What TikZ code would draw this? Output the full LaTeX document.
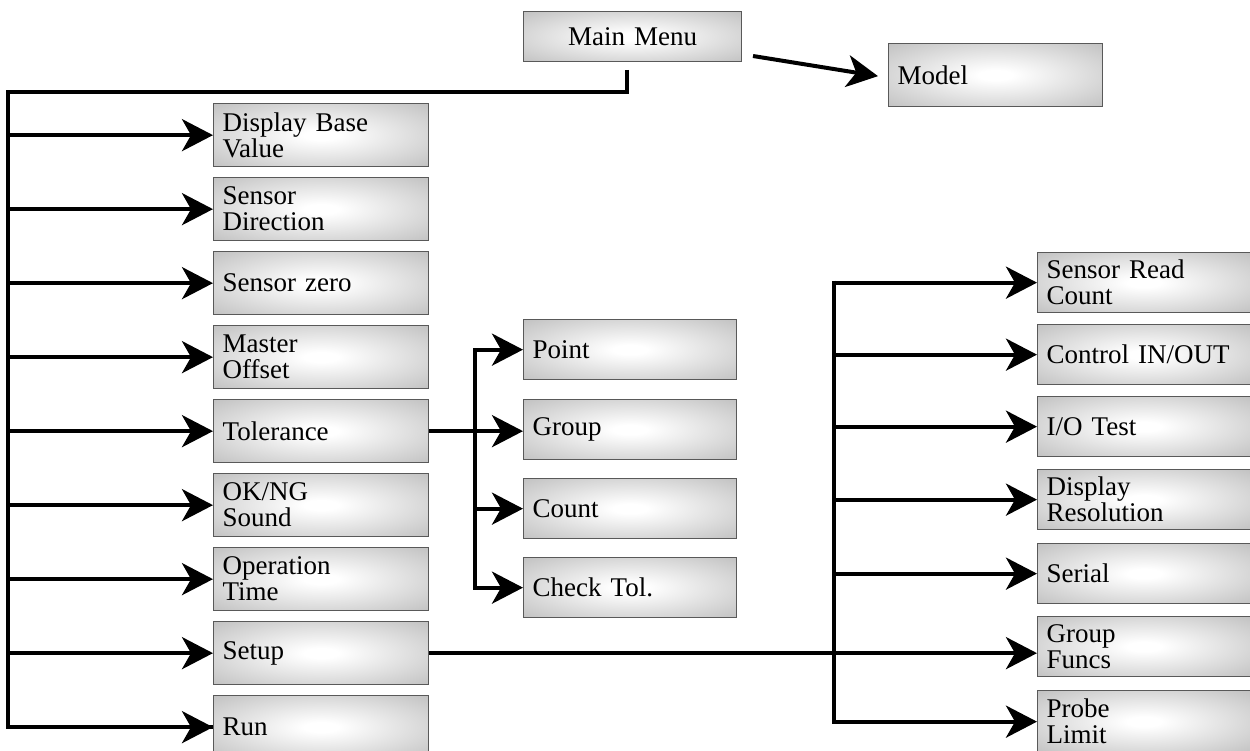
\documentclass[tikz,border=0pt]{standalone}
\usepackage{fontspec}
\setmainfont{Liberation Serif}[WordSpace=2.4]
\usetikzlibrary{arrows.meta,calc}
\pgfdeclareradialshading{boxshade}{\pgfpointorigin}{color(0bp)=(white); color(4bp)=(white); color(50bp)=(black!35); color(71bp)=(black!40)}
\tikzset{
  box/.style={rectangle, draw=black!65, line width=1.3pt, shading=boxshade,
    anchor=north west, inner xsep=9pt, inner ysep=0pt, align=left,
    text width=197pt, minimum height=63pt,
    font=\fontsize{27}{26}\selectfont},
  boxm/.style={box, minimum height=60pt},
  conn/.style={line width=4pt, line cap=butt, line join=miter},
  arr/.style={conn, -{Stealth[length=31pt, width=32pt, inset=9pt]}},
}
\begin{document}
\begin{tikzpicture}[x=1pt, y=-1pt]
\useasboundingbox (0,0) rectangle (1250,751);
% top
\node[box, align=center, text width=200pt, minimum height=50pt] (mm) at (523,11) {Main Menu};
\node[box, text width=196pt] (model) at (888,43) {Model};
% left column
\node[box] (dbv) at (213,103) {Display Base\\Value};
\node[box] (sd)  at (213,177) {Sensor\\Direction};
\node[box] (sz)  at (213,251) {Sensor zero};
\node[box] (mo)  at (213,325) {Master\\Offset};
\node[box] (tol) at (213,399) {Tolerance};
\node[box] (ok)  at (213,473) {OK/NG\\Sound};
\node[box] (ot)  at (213,547) {Operation\\Time};
\node[box] (setup) at (213,621) {Setup};
\node[box] (run) at (213,695) {Run};
% middle column
\node[boxm, text width=195pt] (pt) at (523,319) {Point};
\node[boxm, text width=195pt] (gr) at (523,399) {Group};
\node[boxm, text width=195pt] (cn) at (523,478) {Count};
\node[boxm, text width=195pt] (ct) at (523,557) {Check Tol.};
% right column
\node[boxm, text width=195pt] (src) at (1037,252) {Sensor Read\\Count};
\node[boxm, text width=195pt] (cio) at (1037,324) {Control IN/OUT};
\node[boxm, text width=195pt] (iot) at (1037,396) {I/O Test};
\node[boxm, text width=195pt] (dr)  at (1037,469) {Display\\Resolution};
\node[boxm, text width=195pt] (ser) at (1037,543) {Serial};
\node[boxm, text width=195pt] (gf)  at (1037,616) {Group\\Funcs};
\node[boxm, text width=195pt, minimum height=62pt] (pl)  at (1037,690) {Probe\\Limit};
% Main Menu -> Model
\coordinate (ms) at (753,56);
\draw[arr] (ms) -- ($(model.west)+(-10,1)$);
% trunk
\coordinate (t0) at (627,70);
\coordinate (tl) at (8,92);
\draw[conn] (t0) |- (tl) -- (tl |- run.west) -- (run.west);
\draw[arr] (tl |- run.west) -- (run.west);
\foreach \n in {dbv,sd,sz,mo,tol,ok,ot,setup}{
  \draw[arr] (tl |- \n.west) -- (\n.west);
}
% tolerance branch
\coordinate (tb) at (475,0);
\draw[arr] (tol.east) -- (tol.east -| gr.west);
\draw[conn] (tb |- pt.west) -- (tb |- ct.west);
\draw[arr] ($(tb |- pt.west)+(-2,0)$) -- (pt.west);
\draw[arr] (tb |- cn.west) -- (cn.west);
\draw[arr] ($(tb |- ct.west)+(-2,0)$) -- (ct.west);
% setup branch
\coordinate (sb) at (834,0);
\draw[arr] (setup.east) -- (setup.east -| gf.west);
\draw[conn] ($(sb |- src.west)+(0,-2)$) -- ($(sb |- pl.west)+(0,2)$);
\foreach \n in {src,cio,iot,dr,ser}{
  \draw[arr] ($(sb |- \n.west)+(-2,0)$) -- (\n.west);
}
\draw[arr] ($(sb |- pl.west)+(-2,0)$) -- (pl.west);
\end{tikzpicture}
\end{document}
